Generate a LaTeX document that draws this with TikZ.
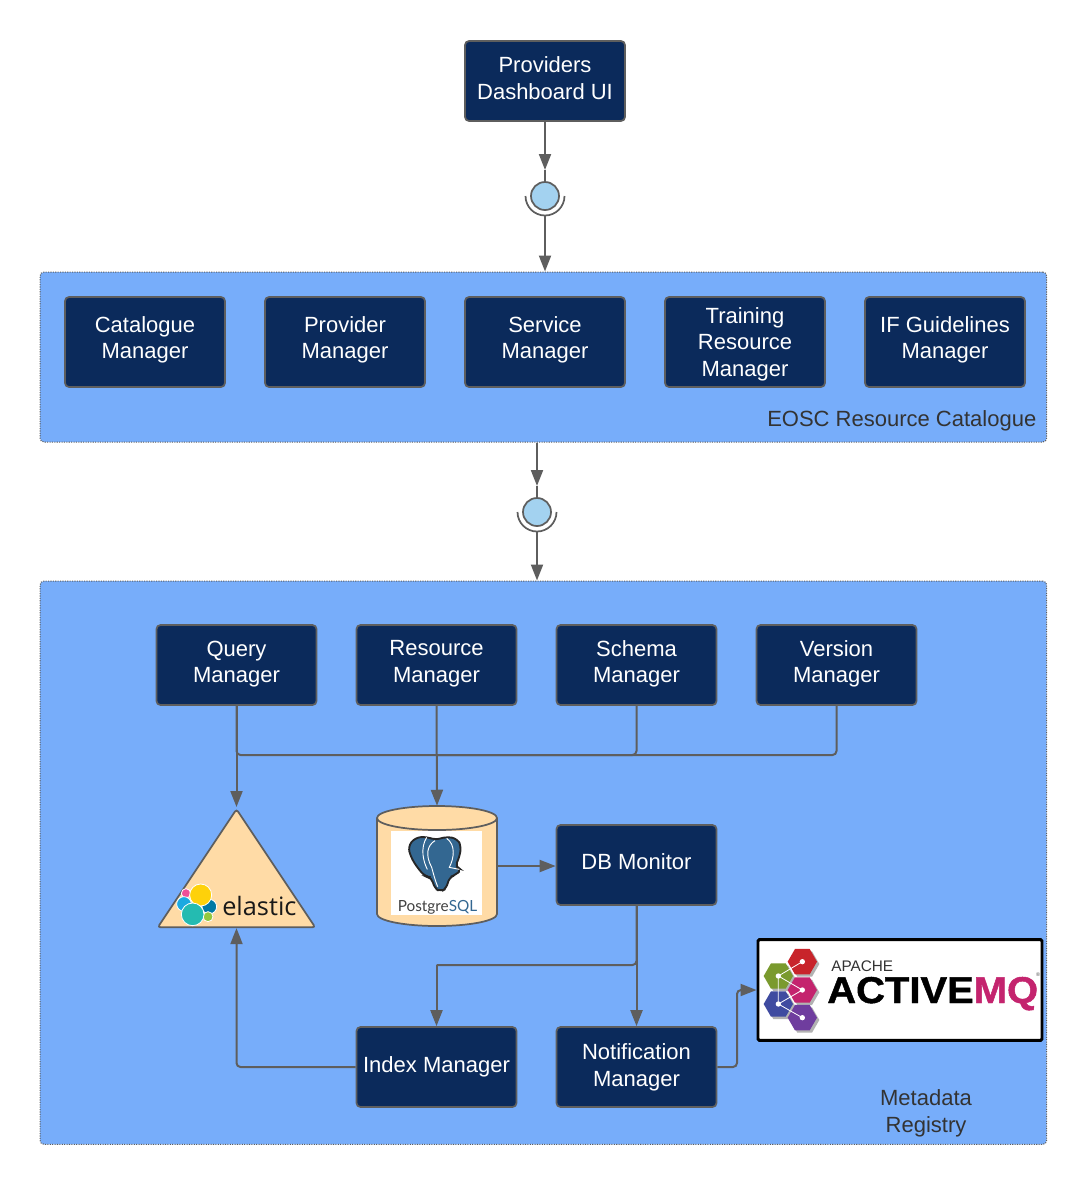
\documentclass[tikz,border=0pt]{standalone}
\usepackage{fontspec}
\setmainfont{Liberation Sans}
\newfontfamily\logofont{Open Sans}
\newfontfamily\pgfont{Lato}
\newfontfamily\mqfont[FakeBold=1.2]{Liberation Sans Bold}
\usetikzlibrary{arrows.meta,shapes.geometric}
\definecolor{navybox}{HTML}{0B2A5B}
\definecolor{edgegray}{HTML}{5E5E5E}
\definecolor{regionblue}{HTML}{77ADFA}
\definecolor{sandfill}{HTML}{FFDBA6}
\definecolor{portblue}{HTML}{A3D2F0}
\definecolor{pgblue}{HTML}{336791}
\definecolor{mqpink}{HTML}{C4246E}
\definecolor{mqred}{HTML}{C8242B}
\definecolor{mqgreen}{HTML}{7A9A2E}
\definecolor{mqblue}{HTML}{3F4BA0}
\definecolor{mqviolet}{HTML}{6F3D9E}
\definecolor{elyellow}{HTML}{FED10A}
\definecolor{elpink}{HTML}{F04E98}
\definecolor{elcyan}{HTML}{1BA9E1}
\definecolor{eldark}{HTML}{0079A5}
\definecolor{elgreen}{HTML}{93C83E}
\definecolor{elteal}{HTML}{24BBB1}
\tikzset{
  manager/.style={draw=edgegray,line width=1.3pt,fill=navybox,rounded corners=3pt,text=white,align=center,
    minimum width=120pt,minimum height=60pt,inner sep=0pt,font=\fontsize{16.5}{20}\selectfont},
  region/.style={draw=edgegray,densely dotted,line width=0.8pt,fill=regionblue,rounded corners=3pt,anchor=north west,inner sep=0pt},
  regionlabel/.style={text=black!80,align=center,font=\fontsize{16.5}{20}\selectfont},
  flowline/.style={draw=edgegray,line width=1.5pt,rounded corners=3pt},
  flowarrow/.style={flowline,-{Triangle[length=12pt,width=9pt]}},
  portball/.style={circle,draw=edgegray,line width=1.3pt,fill=portblue,minimum size=21pt,inner sep=0pt},
  hexcell/.style={regular polygon,regular polygon sides=6,minimum size=22pt,inner sep=0pt},
}
\begin{document}
\begin{tikzpicture}[x=0.75pt,y=-0.75pt]
\useasboundingbox (0,0) rectangle (1092,1193);

% regions
\node (catalogue) [region,minimum width=755pt,minimum height=127.5pt] at (39.5,271.5) {};
\node (registry) [region,minimum width=755pt,minimum height=422.5pt] at (39.5,580.5) {};
\node [regionlabel,anchor=east] at (1041,421) {EOSC Resource Catalogue};
\node [regionlabel] at (926,1113) {Metadata\\Registry};

% managers
\node (dashboard) [manager,text depth=4.5pt] at (545,81) {Providers\\Dashboard UI};
\node (cataloguemgr) [manager,text depth=6.5pt,minimum height=67.5pt] at (145,342) {Catalogue\\Manager};
\node (providermgr) [manager,text depth=6.5pt,minimum height=67.5pt] at (345,342) {Provider\\Manager};
\node (servicemgr) [manager,text depth=6.5pt,minimum height=67.5pt] at (545,342) {Service\\Manager};
\node (trainingmgr) [manager,text depth=0pt,minimum height=67.5pt] at (745,342) {Training\\Resource\\Manager};
\node (guidelinesmgr) [manager,text depth=6.5pt,minimum height=67.5pt] at (945,342) {IF Guidelines\\Manager};
\node (querymgr) [manager,text depth=5pt] at (236.5,665) {Query\\Manager};
\node (resourcemgr) [manager,text depth=5pt] at (436.5,665) {Resource\\Manager};
\node (schemamgr) [manager,text depth=5pt] at (636.5,665) {Schema\\Manager};
\node (versionmgr) [manager,text depth=5pt] at (836.5,665) {Version\\Manager};
\node (dbmonitor) [manager,text depth=4.5pt] at (636.5,865) {DB Monitor};
\node (indexmgr) [manager] at (436.5,1067) {Index Manager};
\node (notifymgr) [manager] at (636.5,1067) {Notification\\Manager};

% interfaces
\node (portone) [portball] at (545,196) {};
\node (porttwo) [portball] at (537,512) {};
\draw [edgegray,line width=1.3pt] (525.5,196) arc (180:0:19.5);
\draw [edgegray,line width=1.3pt] (517.5,512) arc (180:0:19.5);
\coordinate (portoneup) at (545,170);
\coordinate (portonedown) at (545,216);
\coordinate (porttwoup) at (537,486);
\coordinate (porttwodown) at (537,532);

% stores
\node (elastic) [isosceles triangle,shape border rotate=90,isosceles triangle stretches,draw=edgegray,line width=1.3pt,fill=sandfill,
  rounded corners=2pt,inner sep=0pt,minimum width=118pt,minimum height=88.5pt,anchor=apex] at (236.5,807) {};
\node (postgres) [minimum width=90pt,minimum height=90pt,inner sep=0pt] at (437,866) {};
\draw [edgegray,line width=1.3pt,fill=sandfill] (377,818) -- (377,914) arc (180:0:60 and 12) -- (497,818) arc (0:-180:60 and 12) -- cycle;
\draw [edgegray,line width=1.3pt] (377,818) arc (180:0:60 and 12);
\node (pgimage) [fill=white,minimum width=68.25pt,minimum height=63pt,inner sep=0pt] at (436.5,873) {};

% elastic logo
\begin{scope}[shift={(140,780)},x=0.25pt,y=-0.25pt,white,line width=0.6pt]
\filldraw [fill=elpink] (138,340) circle (14);
\filldraw [fill=elcyan] (132,372) circle (22);
\filldraw [fill=eldark] (208,380) circle (22);
\filldraw [fill=elgreen] (204,410) circle (15);
\filldraw [fill=elyellow] (182,345) circle (33);
\filldraw [fill=elteal] (158,403) circle (34);
\end{scope}
\node (elastictext) [anchor=base west,inner sep=0pt,font=\logofont\fontsize{19}{20}\selectfont,text=black!90] at (222,915) {elastic};

% postgres logo
\begin{scope}[shift={(140,780)},x=0.25pt,y=-0.25pt]
\draw [fill=pgblue,draw=black!85,line width=1.4pt,rounded corners=4pt]
  (804,200) -- (825,173) -- (860,170) -- (885,180) -- (920,170) -- (952,176) -- (964,200) -- (957,235) -- (944,262) -- (965,268)
  -- (947,285) -- (927,292) -- (920,325) -- (902,335) -- (882,324) -- (876,292) -- (856,290) -- (833,264) -- (813,232) -- cycle;
\draw [white,line width=0.7pt] (860,172) .. controls (840,205) and (850,245) .. (862,268);
\draw [white,line width=0.7pt] (885,182) .. controls (862,195) and (855,225) .. (875,262) .. controls (880,280) and (885,300) .. (893,320);
\draw [white,line width=0.7pt] (920,175) .. controls (948,195) and (942,235) .. (928,262) -- (958,268);
\end{scope}
\node (pgtext) [anchor=base,inner sep=0pt,font=\pgfont\fontsize{11.5}{12}\selectfont,text=black!75] at (437.5,911) {Postgre\textcolor{pgblue}{SQL}};

% activemq logo
\node (activemq) [draw=black,line width=2.2pt,fill=white,rounded corners=1pt,minimum width=213pt,minimum height=75.5pt,inner sep=0pt] at (900,990) {};
\begin{scope}[shift={(750,930)},x=0.25pt,y=-0.25pt]
\foreach \hx/\hy/\hcol in {157/95/mqred,85/138/mqgreen,157/180/mqpink,85/222/mqblue,157/263/mqviolet}{
  \node [hexcell,fill=black!30] at (\hx+7,\hy+7) {};
  \node [hexcell,fill=\hcol] at (\hx,\hy) {};
}
\draw [white,line width=0.6pt] (157,95) -- (85,138) -- (157,180) -- (85,222) -- (157,263) (85,138) -- (85,222);
\foreach \hx/\hy in {157/95,85/138,157/180,85/222,157/263}{
  \fill [white] (\hx,\hy) circle (8);
}
\end{scope}
\node (mqapache) [anchor=base west,inner sep=0pt,font=\fontsize{11.5}{12}\selectfont,text=black!80] at (831,971) {APACHE};
\node (mqname) [anchor=base west,inner sep=0pt,font=\mqfont\fontsize{28}{30}\selectfont,xscale=1.07] at (827,1003) {ACTIVE\textcolor{mqpink}{MQ}};
\node (mqmark) [inner sep=0pt,font=\fontsize{4}{4}\selectfont,text=black!70] at (1038,975) {®};

% connectors
\coordinate (busjoin) at (436.5,755);
\coordinate (indexbend) at (436.5,965);
\coordinate (mqbend) at (737,1030);
\draw [flowline] (portoneup) -- (portone.north);
\draw [flowarrow] (dashboard.south) -- (portoneup);
\draw [flowarrow] (portonedown) -- (portone |- catalogue.north);
\draw [flowline] (porttwoup) -- (porttwo.north);
\draw [flowarrow] (porttwo |- catalogue.south) -- (porttwoup);
\draw [flowarrow] (porttwodown) -- (porttwo |- registry.north);
\draw [flowarrow] (querymgr.south) -- (elastic.apex);
\draw [flowline] (querymgr.south) |- (busjoin);
\draw [flowline] (schemamgr.south) |- (busjoin);
\draw [flowline] (versionmgr.south) |- (busjoin);
\draw [flowarrow] (resourcemgr.south) -- (postgres.north);
\draw [flowarrow] (postgres.east) -- (postgres.east -| dbmonitor.west);
\draw [flowline] (dbmonitor.south) |- (indexbend);
\draw [flowarrow] (indexbend) -- (indexmgr.north);
\draw [flowarrow] (dbmonitor.south) -- (notifymgr.north);
\draw [flowarrow] (indexmgr.west) -| (elastic.lower side);
\draw [flowarrow] (notifymgr.east) -| (mqbend) |- (activemq.west);
\end{tikzpicture}
\end{document}
